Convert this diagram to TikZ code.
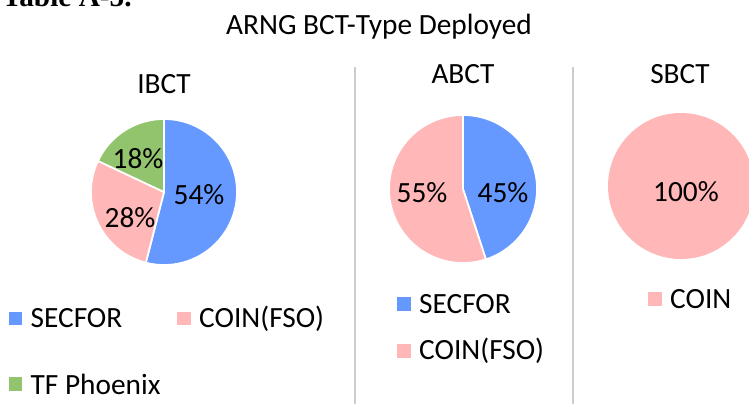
\documentclass[tikz,border=0pt]{standalone}
\usepackage{fontspec}
\setmainfont{Carlito}
\newfontfamily\serifbold{Liberation Serif}
\usetikzlibrary{positioning}
\definecolor{colSecfor}{RGB}{102,153,255}
\definecolor{colCoin}{RGB}{255,183,183}
\definecolor{colPhoenix}{RGB}{146,196,110}
\definecolor{colTrait}{RGB}{205,205,205}

\begin{document}
\begin{tikzpicture}[x=0.75pt, y=0.75pt,
    every node/.style={font=\fontsize{22}{26}\selectfont},
    slice/.style={draw=white, line width=1.3pt, line join=round},
    pct/.style={inner sep=0pt},
    key/.style={rectangle, inner sep=0pt, minimum width=10pt, minimum height=9.8pt},
    lbl/.style={inner sep=0pt, anchor=west},
    sep/.style={colTrait, line width=0.9pt}]
  \useasboundingbox (0,0) rectangle (749,-404);
  \clip (0,0) rectangle (749,-404);
  % heading cut at the top edge
  \node[anchor=base east, inner sep=0pt, font=\fontsize{22}{26}\selectfont\serifbold\bfseries]
    (tab) at (132,-6) {Table A-5.};
  \node (title) at (379,-27) {ARNG BCT-Type Deployed};
  % separators between the three charts
  \coordinate (s1) at (355,-67); \coordinate (s1b) at (355,-404);
  \coordinate (s2) at (573,-67); \coordinate (s2b) at (573,-404);
  \draw[sep] (s1) -- (s1b);
  \draw[sep] (s2) -- (s2b);

  % IBCT
  \node (ibct) at (164,-84) {IBCT};
  \coordinate (pieI) at (164,-192);
  \filldraw[fill=colSecfor, slice] (pieI) -- ++(90:73)
    arc[start angle=90, end angle=-104.4, radius=73] -- cycle;
  \filldraw[fill=colCoin, slice] (pieI) -- ++(-104.4:73)
    arc[start angle=-104.4, end angle=-205.2, radius=73] -- cycle;
  \filldraw[fill=colPhoenix, slice] (pieI) -- ++(-205.2:73)
    arc[start angle=-205.2, end angle=-270, radius=73] -- cycle;
  \node[pct] (i54) at (199,-195) {54\%};
  \node[pct] (i28) at (130,-218) {28\%};
  \node[pct] (i18) at (138,-159) {18\%};
  \node[key, fill=colSecfor] (ki1) at (15.5,-318.5) {};
  \node[lbl, right=6pt of ki1] (li1) {SECFOR};
  \node[key, fill=colCoin] (ki2) at (184,-318.5) {};
  \node[lbl, right=6pt of ki2] (li2) {COIN(FSO)};
  \node[key, fill=colPhoenix] (ki3) at (15.5,-384) {};
  \node[lbl, right=6pt of ki3] (li3) {TF Phoenix};

  % ABCT
  \node (abct) at (463,-74) {ABCT};
  \coordinate (pieA) at (463,-189);
  \filldraw[fill=colSecfor, slice] (pieA) -- ++(90:74)
    arc[start angle=90, end angle=-72, radius=74] -- cycle;
  \filldraw[fill=colCoin, slice] (pieA) -- ++(-72:74)
    arc[start angle=-72, end angle=-270, radius=74] -- cycle;
  \node[pct] (a55) at (422,-193) {55\%};
  \node[pct] (a45) at (503,-193) {45\%};
  \node[key, fill=colSecfor] (ka1) at (404,-304) {};
  \node[lbl, right=6pt of ka1] (la1) {SECFOR};
  \node[key, fill=colCoin] (ka2) at (404,-351) {};
  \node[lbl, right=6pt of ka2] (la2) {COIN(FSO)};

  % SBCT
  \node (sbct) at (680,-74) {SBCT};
  \coordinate (pieS) at (681,-186);
  \fill[colCoin] (pieS) circle[radius=73];
  \node[pct] (s100) at (686,-192) {100\%};
  \node[key, fill=colCoin] (ks1) at (655,-299) {};
  \node[lbl, right=6pt of ks1] (ls1) {COIN};
\end{tikzpicture}
\end{document}
